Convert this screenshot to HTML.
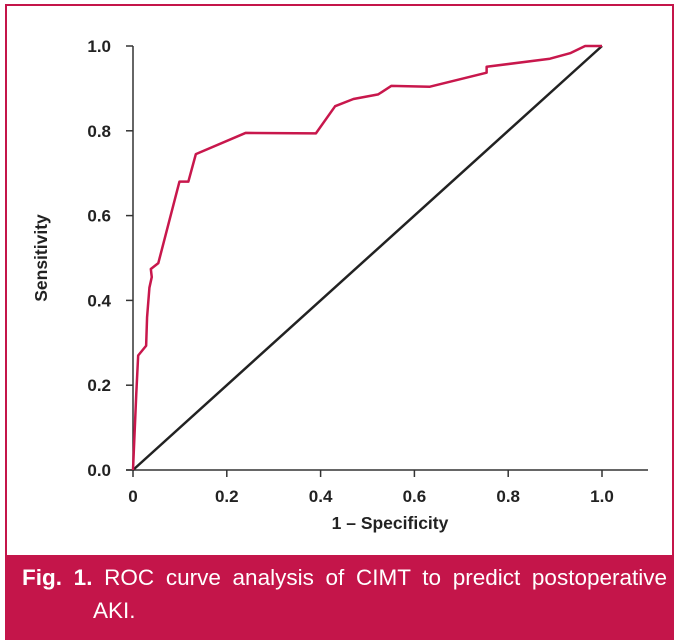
<!DOCTYPE html>
<html><head><meta charset="utf-8"><style>
body{margin:0;width:680px;height:640px;background:#fff;overflow:hidden;font-family:"Liberation Sans",Arial,sans-serif}
#frame{position:absolute;left:5px;top:4px;width:665px;height:630px;border:2px solid #c4154a;border-bottom:none}
#cap{position:absolute;left:5px;top:555px;width:669px;height:85px;background:#c4154a;color:#fff;font-size:22.5px}
</style></head><body>
<div id="frame"></div>
<svg width="680" height="640" style="position:absolute;left:0;top:0" id="chart"></svg>
<div id="cap">
<div style="position:absolute;left:17px;top:10px;width:645px;white-space:nowrap;text-align:justify;text-align-last:justify"><b>Fig.&nbsp;1.</b> ROC curve analysis of CIMT to predict postoperative</div>
<div style="position:absolute;left:88px;top:43px">AKI.</div>
</div>
<script>
const fprValues=[0,0.007,0.011,0.028,0.030,0.035,0.040,0.038,0.054,0.099,0.118,0.134,0.24,0.39,0.431,0.47,0.523,0.551,0.633,0.754,0.754,0.889,0.932,0.964,1];
const tprValues=[0,0.18,0.27,0.293,0.36,0.43,0.455,0.474,0.488,0.68,0.68,0.745,0.795,0.794,0.858,0.875,0.886,0.906,0.904,0.937,0.951,0.97,0.983,1,1];
const xTicks=["0","0.2","0.4","0.6","0.8","1.0"];
const yTicks=["0.0","0.2","0.4","0.6","0.8","1.0"];
const NS="http://www.w3.org/2000/svg";
const svg=document.getElementById('chart');
const X=v=>133+v*469, Y=v=>470-v*424;
function mk(t,a){const e=document.createElementNS(NS,t);for(const k in a)e.setAttribute(k,a[k]);svg.appendChild(e);return e;}
let e;
e=mk('line',{x1:133,y1:46,x2:133,y2:470,stroke:'#333','stroke-width':1.5});


e=mk('line',{x1:126,y1:470,x2:648,y2:470,stroke:'#333','stroke-width':1.5});


xTicks.forEach((t,i)=>{const v=i/5;
e=mk('line',{x1:X(v),y1:470,x2:X(v),y2:477,stroke:'#333','stroke-width':1.5});


e=mk('text',{x:X(v),y:502,'text-anchor':'middle','font-size':17,'font-weight':'bold',fill:'#222'});e.textContent=t;

});
yTicks.forEach((t,i)=>{const v=i/5;
e=mk('line',{x1:126,y1:Y(v),x2:133,y2:Y(v),stroke:'#333','stroke-width':1.5});


e=mk('text',{x:111,y:Y(v)+6,'text-anchor':'end','font-size':17,'font-weight':'bold',fill:'#222'});e.textContent=t;

});
e=mk('text',{x:390,y:529,'text-anchor':'middle','font-size':17.5,'font-weight':'bold',fill:'#222'});e.textContent='1 – Specificity';


e=mk('text',{x:0,y:0,transform:'translate(47,258) rotate(-90)','text-anchor':'middle','font-size':17.5,'font-weight':'bold',fill:'#222'});e.textContent='Sensitivity';


e=mk('line',{x1:X(0),y1:Y(0),x2:X(1),y2:Y(1),stroke:'#222','stroke-width':2.5});


e=mk('polyline',{points:fprValues.map((v,i)=>X(v)+','+Y(tprValues[i])).join(' '),fill:'none',stroke:'#c8174c','stroke-width':2.5,'stroke-linejoin':'round'});


</script>
</body></html>
